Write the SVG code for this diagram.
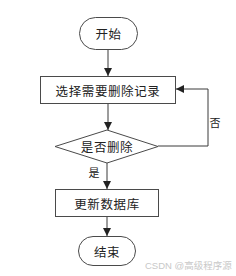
<svg xmlns="http://www.w3.org/2000/svg" width="236" height="276" viewBox="0 0 236 276">
<defs>
<style>
.shape{fill:#ffffff;stroke:#4a4a4a;stroke-width:1}
.t{font-family:"Noto Sans CJK SC","Liberation Serif",serif;font-size:12.5px;fill:#222;text-anchor:middle;dominant-baseline:central;letter-spacing:0.6px}
.lbl{font-family:"Noto Sans CJK SC","Liberation Serif",serif;font-size:11px;fill:#222;text-anchor:middle;dominant-baseline:central}
.edge{fill:none;stroke:#3a3a3a;stroke-width:1}
.wm{font-family:"Liberation Sans","Noto Sans CJK SC",sans-serif;font-size:9.5px;fill:#c8c8c8}
</style>
<marker id="arr" viewBox="0 0 10 10" refX="10" refY="5" markerWidth="8" markerHeight="8" markerUnits="userSpaceOnUse" orient="auto">
<path d="M0,0 L10,5 L0,10 Z" fill="#222"/>
</marker>
</defs>
<rect width="236" height="276" fill="#ffffff"/>
<g id="connectors">
<line class="edge" x1="108" y1="49" x2="108" y2="76" marker-end="url(#arr)"/>
<line class="edge" x1="108" y1="103" x2="108" y2="130" marker-end="url(#arr)"/>
<polyline class="edge" points="158,146 208,146 208,89 176,89" marker-end="url(#arr)"/>
<line class="edge" x1="107" y1="163" x2="107" y2="189" marker-end="url(#arr)"/>
<line class="edge" x1="107" y1="216" x2="107" y2="236" marker-end="url(#arr)"/>
<text class="lbl" x="215" y="122">否</text>
<text class="lbl" x="94" y="172">是</text>
</g>
<g id="start">
<rect class="shape" x="79.5" y="17.5" width="58" height="32" rx="16" ry="16"/>
<text class="t" x="108.5" y="33">开始</text>
</g>
<g id="select">
<rect class="shape" x="40.5" y="76.5" width="135" height="27"/>
<text class="t" x="108" y="90">选择需要删除记录</text>
</g>
<g id="decision">
<polygon class="shape" points="107,130 158,146.5 107,163 55,146.5"/>
<text class="t" x="107" y="146.5">是否删除</text>
</g>
<g id="update">
<rect class="shape" x="55.5" y="189.5" width="103" height="27"/>
<text class="t" x="107" y="203">更新数据库</text>
</g>
<g id="end">
<rect class="shape" x="78.5" y="236.5" width="57" height="29" rx="14.5" ry="14.5"/>
<text class="t" x="107" y="251">结束</text>
</g>
<text class="wm" x="145" y="268.5">CSDN @高级程序源</text>
</svg>
